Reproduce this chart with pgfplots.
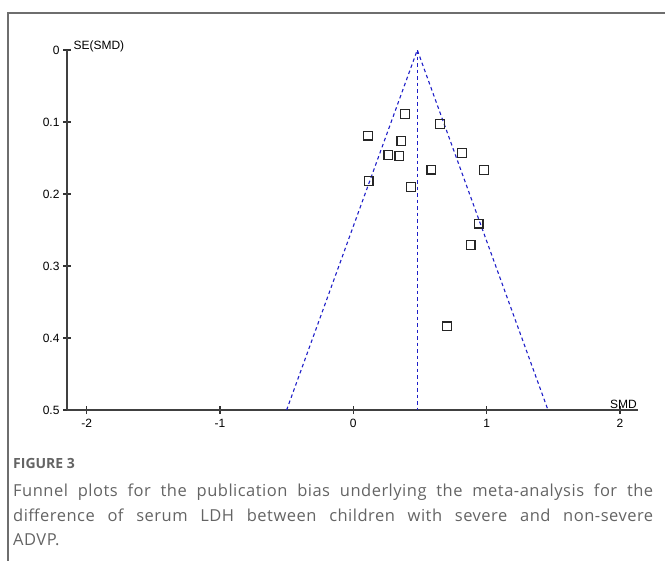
\documentclass[border=0pt]{standalone}
\usepackage{pgfplots}
\pgfplotsset{compat=1.18}
\usepackage{fontspec}
\setmainfont{Liberation Sans}
\newfontfamily\capfont[LetterSpace=3]{Open Sans}
\newfontfamily\capboldfont{Open Sans}
\definecolor{framegray}{RGB}{110,110,110}
\definecolor{capgray}{RGB}{100,100,100}
\definecolor{funnelblue}{RGB}{30,30,200}
\begin{document}
\begin{tikzpicture}[x=1pt,y=1pt]
\useasboundingbox (0,0) rectangle (665,-561);
\draw[line width=1.3pt, framegray] (8,-561) -- (8,-13) -- (665,-13);
\begin{axis}[
  at={(67pt,-410pt)}, anchor=south west,
  width=571pt, height=360pt, scale only axis,
  xmin=-2.147, xmax=2.135, ymin=0, ymax=0.5,
  y dir=reverse,
  axis x line=bottom, axis y line=left,
  axis line style={-, line width=1.3pt, black!75},
  xtick={-2,-1,0,1,2},
  xticklabels={-2,-1,0,1,2},
  ytick={0,0.1,0.2,0.3,0.4,0.5},
  yticklabels={0,0.1,0.2,0.3,0.4,0.5},
  tick align=center,
  major tick length=8pt,
  tick style={line width=1.1pt, black!80},
  tick label style={font=\fontsize{12}{14}\selectfont},
  xticklabel style={yshift=-2pt},
  /pgf/number format/assume math mode=true,
  xlabel={SMD}, ylabel={SE(SMD)},
  every axis x label/.style={at={(axis description cs:1,0)}, anchor=south east, font=\fontsize{12}{14}\selectfont, inner sep=1pt},
  every axis y label/.style={at={(axis description cs:0,1)}, anchor=south west, font=\fontsize{12}{14}\selectfont, xshift=3pt, yshift=-6pt},
  clip=false,
]
\addplot[funnelblue, line width=1.1pt, dash pattern=on 3.5pt off 3pt] coordinates {(-0.50,0.5) (0.48,0) (1.46,0.5)};
\addplot[funnelblue, line width=1.1pt, dash pattern=on 3.5pt off 3pt] coordinates {(0.48,0) (0.48,0.5)};
\addplot[only marks, mark=square, mark size=4.4pt, black!85, mark options={line width=1.2pt}] coordinates {
(0.386,0.089) (0.649,0.103) (0.108,0.119) (0.361,0.126) (0.263,0.146) (0.346,0.147)
(0.817,0.143) (0.586,0.166) (0.980,0.167) (0.115,0.182) (0.431,0.190) (0.940,0.241)
(0.880,0.271) (0.702,0.384)};
\end{axis}
\node[anchor=base west, text=capgray, inner sep=0, font=\capboldfont\fontsize{14}{16}\selectfont\bfseries] at (13,-469) {FIGURE 3};
\node[anchor=north west, text width=640pt, align=justify, inner sep=0, text=capgray, font=\capfont\fontsize{16.5}{24.5}\selectfont] at (13,-484) {Funnel plots for the publication bias underlying the meta-analysis for the\linebreak difference of serum LDH between children with severe and non-severe\linebreak ADVP.};
\end{tikzpicture}
\end{document}
